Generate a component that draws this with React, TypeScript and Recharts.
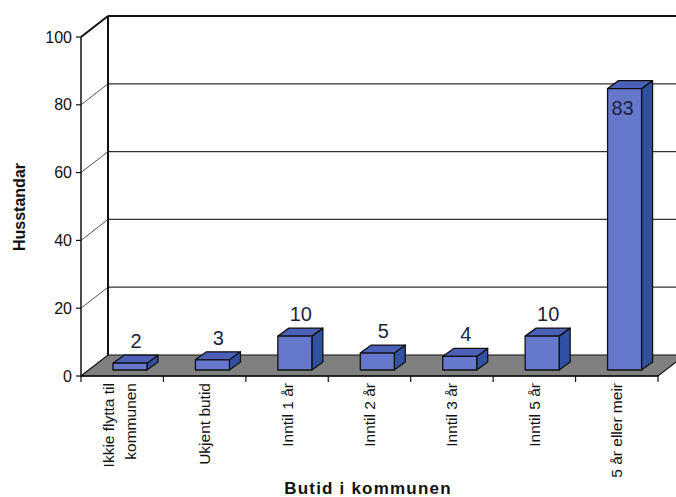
import React from 'react'
import { BarChart, Bar, XAxis, YAxis, CartesianGrid, LabelList, Label } from 'recharts'

const categories = [
  'Ikkie flytta til kommunen',
  'Ukjent butid',
  'Inntil 1 år',
  'Inntil 2 år',
  'Inntil 3 år',
  'Inntil 5 år',
  '5 år eller meir',
]
const categoryLines = [
  ['Ikkie flytta til', 'kommunen'],
  ['Ukjent butid'],
  ['Inntil 1 år'],
  ['Inntil 2 år'],
  ['Inntil 3 år'],
  ['Inntil 5 år'],
  ['5 år eller meir'],
]
const households = [2, 3, 10, 5, 4, 10, 83]
const yTicks = [0, 20, 40, 60, 80, 100]

const data = categories.map((name, i) => ({ name, value: households[i] }))

// layout of the front plane of the 3D box
const W = 676
const H = 497
const PLOT_LEFT = 81
const PLOT_RIGHT = 658
const PLOT_TOP = 37
const PLOT_BOTTOM = 376
const BAND = (PLOT_RIGHT - PLOT_LEFT) / categories.length
// depth of the whole box, and where the bars sit inside it
const DX = 27
const DY = 21
const BAR_DX = 8
const BAR_DY = 6
const BAR_DEPTH_X = 11
const BAR_DEPTH_Y = 8

const FONT = '"Liberation Sans", Arial, sans-serif'

const GridLine = (props: any) => {
  const { x1, y1, x2, index } = props
  if (Math.abs(y1 - PLOT_BOTTOM) < 1) {
    return (
      <g key={`g-${index}`}>
        <polygon
          points={`${x1},${y1} ${x2},${y1} ${x2 + DX},${y1 - DY} ${x1 + DX},${y1 - DY}`}
          fill="#808080"
          stroke="#111"
          strokeWidth={1.2}
        />
      </g>
    )
  }
  const top = Math.abs(y1 - PLOT_TOP) < 1
  return (
    <g key={`g-${index}`}>
      <line x1={x1} y1={y1} x2={x1 + DX} y2={y1 - DY} stroke={top ? '#111' : '#555'} strokeWidth={top ? 2 : 1} />
      <line x1={x1 + DX} y1={y1 - DY} x2={x2 + DX} y2={y1 - DY} stroke={top ? '#111' : '#333'} strokeWidth={top ? 2 : 1.2} />
      {top && (
        <line x1={x1 + DX} y1={y1 - DY} x2={x1 + DX} y2={PLOT_BOTTOM - DY} stroke="#111" strokeWidth={2} />
      )}
    </g>
  )
}

const Box = (props: any) => {
  const { x, y, width, height } = props
  const fx = x + BAR_DX
  const fy = y - BAR_DY
  const fb = y + height - BAR_DY
  const r = fx + width
  return (
    <g stroke="#111" strokeWidth={1.3} strokeLinejoin="round">
      <polygon
        points={`${r},${fy} ${r + BAR_DEPTH_X},${fy - BAR_DEPTH_Y} ${r + BAR_DEPTH_X},${fb - BAR_DEPTH_Y} ${r},${fb}`}
        fill="#3050a4"
      />
      <polygon
        points={`${fx},${fy} ${fx + BAR_DEPTH_X},${fy - BAR_DEPTH_Y} ${r + BAR_DEPTH_X},${fy - BAR_DEPTH_Y} ${r},${fy}`}
        fill="#4c60b8"
      />
      <rect x={fx} y={fy} width={width} height={fb - fy} fill="#6678cc" />
    </g>
  )
}

const ValueLabel = (props: any) => {
  const { x, y, width, value } = props
  const cx = x + BAR_DX + width / 2
  const fy = y - BAR_DY
  const inside = value > 50
  return (
    <text
      x={inside ? cx - 2 : cx + 6}
      y={inside ? fy + 19 : fy - 22}
      textAnchor="middle"
      dominantBaseline="central"
      fontSize={20}
      fontFamily={FONT}
      fill="#1c2340"
    >
      {value}
    </text>
  )
}

const CategoryTick = (props: any) => {
  const { x, index } = props
  const lines = categoryLines[index] || []
  const left = x - BAND / 2
  const offsets = lines.length > 1 ? [-14, 8] : [0]
  return (
    <g>
      <line x1={left} y1={PLOT_BOTTOM} x2={left} y2={PLOT_BOTTOM + 6} stroke="#111" strokeWidth={1.2} />
      {index === categories.length - 1 && (
        <line x1={x + BAND / 2} y1={PLOT_BOTTOM} x2={x + BAND / 2} y2={PLOT_BOTTOM + 6} stroke="#111" strokeWidth={1.2} />
      )}
      <g transform={`translate(${x},${PLOT_BOTTOM + 7}) rotate(-90)`}>
        {lines.map((t, i) => (
          <text
            key={t}
            x={0}
            y={offsets[i]}
            dy="0.35em"
            textAnchor="end"
            fontSize={15.5}
            fontFamily={FONT}
            fill="#111"
          >
            {t}
          </text>
        ))}
      </g>
    </g>
  )
}

export default function App() {
  return (
    <div style={{ position: 'absolute', left: 0, top: 0, width: W, height: H, background: '#fff' }}>
      <BarChart
        width={W}
        height={H}
        data={data}
        margin={{ top: PLOT_TOP, right: W - PLOT_RIGHT, bottom: 0, left: 0 }}
      >
        <CartesianGrid vertical={false} horizontal={GridLine} />
        <XAxis
          dataKey="name"
          height={H - PLOT_BOTTOM}
          interval={0}
          tickLine={false}
          axisLine={{ stroke: '#111', strokeWidth: 1.5 }}
          tick={CategoryTick}
        >
          <Label
            content={() => (
              <text
                x={368}
                y={494}
                textAnchor="middle"
                fontSize={17}
                fontWeight="bold"
                letterSpacing={1.2}
                fontFamily={FONT}
                fill="#111"
              >
                Butid i kommunen
              </text>
            )}
          />
        </XAxis>
        <YAxis
          width={PLOT_LEFT}
          domain={[0, 100]}
          ticks={yTicks}
          interval={0}
          tickSize={5}
          tickMargin={4}
          axisLine={{ stroke: '#111', strokeWidth: 1.5 }}
          tickLine={{ stroke: '#111', strokeWidth: 1.2 }}
          tick={{ fontSize: 16, fill: '#111', fontFamily: FONT }}
        >
          <Label
            content={() => (
              <text
                transform="translate(19,207) rotate(-90)"
                x={0}
                y={0}
                textAnchor="middle"
                dominantBaseline="central"
                fontSize={16}
                fontWeight="bold"
                fontFamily={FONT}
                fill="#111"
              >
                Husstandar
              </text>
            )}
          />
        </YAxis>
        <Bar dataKey="value" barSize={34} shape={Box} isAnimationActive={false}>
          <LabelList dataKey="value" content={ValueLabel} />
        </Bar>
      </BarChart>
    </div>
  )
}
